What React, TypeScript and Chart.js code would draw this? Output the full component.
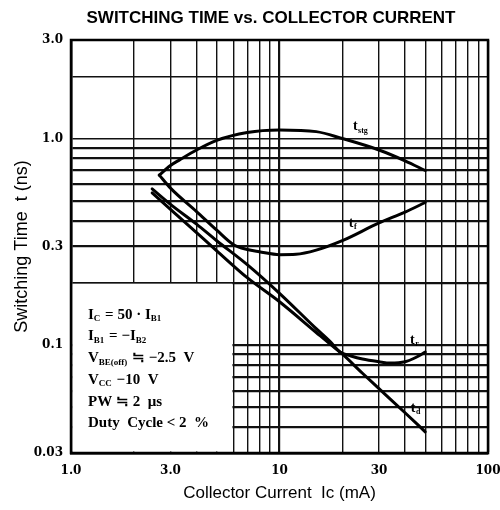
import React, { useEffect, useRef } from "react";
import { Chart, registerables } from "chart.js";

Chart.register(...registerables);

// ---- data ----
const tstgX = [2.65, 3, 3.33, 4, 5, 7, 10, 15, 20, 30, 40, 50];
const tstgY = [0.665, 0.74, 0.79, 0.88, 0.98, 1.07, 1.1, 1.08, 1.0, 0.88, 0.78, 0.7];

const tfX = [2.65, 3, 4, 5, 6, 7, 8, 10, 12, 15, 20, 30, 40, 50];
const tfY = [0.665, 0.575, 0.443, 0.36, 0.307, 0.29, 0.283, 0.274, 0.275, 0.288, 0.32, 0.39, 0.44, 0.49];

const trX = [2.45, 3, 4, 5, 7, 10, 15, 17.5, 19.5, 22, 25, 30, 34, 40, 45, 50];
const trY = [0.57, 0.48, 0.385, 0.32, 0.245, 0.178, 0.12, 0.104, 0.0925, 0.0885, 0.0855, 0.083, 0.0818, 0.083, 0.087, 0.0925];

const tdX = [2.45, 3, 4, 5, 7, 10, 15, 17.5, 19.5, 20, 25, 30, 40, 50];
const tdY = [0.545, 0.454, 0.35, 0.286, 0.212, 0.162, 0.115, 0.101, 0.0925, 0.0905, 0.073, 0.0615, 0.047, 0.038];

const xGridValues = [1, 2, 3, 4, 5, 6, 7, 8, 9, 10, 20, 30, 40, 50, 60, 70, 80, 90, 100];
const yGridValues = [0.03, 0.04, 0.05, 0.06, 0.07, 0.08, 0.09, 0.1, 0.2, 0.3, 0.4, 0.5, 0.6, 0.7, 0.8, 0.9, 1, 2, 3];
const xTickValues = [1, 3, 10, 30, 100];
const xTickLabels = ["1.0", "3.0", "10", "30", "100"];
const yTickValues = [0.03, 0.1, 0.3, 1, 3];
const yTickLabels = ["0.03", "0.1", "0.3", "1.0", "3.0"];

const titleText = "SWITCHING TIME vs. COLLECTOR CURRENT";
const xTitle = "Collector Current  Ic (mA)";
const yTitle = "Switching Time  t (ns)";

// curve labels: [main, subscript, x value, y value]
const curveLabels: [string, string, number, number][] = [
  ["t", "stg", 22.5, 1.14],
  ["t", "f", 21.5, 0.39],
  ["t", "r", 42.3, 0.1057],
  ["t", "d", 42.6, 0.0496],
];

// condition text: segments [text, isSubscript]
const conditionLines: [string, boolean][][] = [
  [["I", false], ["C", true], [" = 50 · I", false], ["B1", true]],
  [["I", false], ["B1", true], [" = −I", false], ["B2", true]],
  [["V", false], ["BE(off)", true], [" ≒ −2.5  V", false]],
  [["V", false], ["CC", true], [" −10  V", false]],
  [["PW ≒ 2  ", false], ["μs", false]],
  [["Duty  Cycle < 2  %", false]],
];

const pts = (xs: number[], ys: number[]) => xs.map((x, i) => ({ x, y: ys[i] }));

const near = (a: number, b: number) => Math.abs(a - b) / b < 1e-6;
const isDecade = (v: number) => near(Math.log10(v), Math.round(Math.log10(v)));

const SERIF = '"Liberation Serif", "Times New Roman", serif';
const SANS = '"Liberation Sans", Arial, sans-serif';

const overlayPlugin = {
  id: "overlay",
  beforeDatasetsDraw(chart: any) {
    const { ctx, chartArea } = chart;
    const xs = chart.scales.x;
    const ys = chart.scales.y;
    // white condition box covering the grid in the lower-left corner
    const bx0 = xs.getPixelForValue(1) + 1.5;
    const bx1 = xs.getPixelForValue(6) - 0.8;
    const by0 = ys.getPixelForValue(0.2) + 0.8;
    const by1 = ys.getPixelForValue(0.03) - 1.5;
    ctx.save();
    ctx.fillStyle = "#fff";
    ctx.fillRect(bx0, by0, bx1 - bx0, by1 - by0);
    // frame
    ctx.strokeStyle = "#000";
    ctx.lineWidth = 2.5;
    ctx.strokeRect(chartArea.left, chartArea.top, chartArea.right - chartArea.left, chartArea.bottom - chartArea.top);
    // condition text
    ctx.fillStyle = "#000";
    ctx.textBaseline = "middle";
    ctx.textAlign = "left";
    const startY = ys.getPixelForValue(0.2) + 32;
    conditionLines.forEach((line, i) => {
      let x = chartArea.left + 17;
      const y = startY + i * 21.7;
      line.forEach(([t, sub]) => {
        ctx.font = sub ? `bold 9px ${SERIF}` : `bold 15px ${SERIF}`;
        ctx.fillText(t, x, sub ? y + 4 : y);
        x += ctx.measureText(t).width + (sub ? 1 : 0);
      });
    });
    ctx.restore();
  },
  afterDatasetsDraw(chart: any) {
    const { ctx } = chart;
    const xs = chart.scales.x;
    const ys = chart.scales.y;
    ctx.save();
    ctx.fillStyle = "#000";
    ctx.textBaseline = "middle";
    ctx.textAlign = "left";
    curveLabels.forEach(([m, s, xv, yv]) => {
      const x = xs.getPixelForValue(xv);
      const y = ys.getPixelForValue(yv);
      ctx.font = `bold 14px ${SERIF}`;
      ctx.fillText(m, x, y);
      const w = ctx.measureText(m).width;
      ctx.font = `bold 8px ${SERIF}`;
      ctx.fillText(s, x + w + 0.5, y + 4);
    });
    // main title
    ctx.font = `bold 17px ${SANS}`;
    ctx.textAlign = "center";
    ctx.fillText(titleText, 271, 18);
    ctx.restore();
  },
};

export default function App() {
  const ref = useRef<HTMLCanvasElement | null>(null);
  useEffect(() => {
    if (!ref.current) return;
    const line = (label: string, xs: number[], ys: number[]) => ({
      label,
      data: pts(xs, ys),
      borderColor: "#000",
      backgroundColor: "#000",
      borderWidth: 3,
      borderJoinStyle: "round" as const,
      borderCapStyle: "round" as const,
      pointRadius: 0,
      fill: false,
      cubicInterpolationMode: "monotone" as const,
    });
    const chart = new Chart(ref.current, {
      type: "line",
      data: {
        datasets: [
          line("tstg", tstgX, tstgY),
          line("tf", tfX, tfY),
          line("tr", trX, trY),
          line("td", tdX, tdY),
        ],
      },
      options: {
        responsive: false,
        animation: false,
        layout: { padding: { top: 40, left: 8, right: 0, bottom: 0 } },
        plugins: {
          legend: { display: false },
          tooltip: { enabled: false },
          title: { display: false },
        },
        scales: {
          x: {
            type: "logarithmic",
            min: 1,
            max: 100,
            afterBuildTicks: (scale: any) => {
              scale.ticks = xGridValues.map((v) => ({ value: v }));
            },
            afterFit: (scale: any) => {
              scale.height = 57;
              scale.paddingLeft = 0;
              scale.paddingRight = 12;
            },
            ticks: {
              autoSkip: false,
              maxRotation: 0,
              padding: 11,
              color: "#000",
              font: { family: '"DejaVu Serif"', size: 12, weight: "bold" },
              callback: (v: any) => {
                const i = xTickValues.findIndex((t) => near(Number(v), t));
                return i >= 0 ? xTickLabels[i] : "";
              },
            },
            grid: {
              drawTicks: false,
              color: "#111",
              lineWidth: (c: any) => (c.tick && isDecade(c.tick.value) ? 2.2 : 1.4),
            },
            border: { display: true, color: "#000", width: 2.5 },
            title: {
              display: true,
              text: xTitle,
              color: "#000",
              font: { family: SANS, size: 17 },
              padding: { top: 0, bottom: 6 },
            },
          },
          y: {
            type: "logarithmic",
            min: 0.03,
            max: 3,
            afterBuildTicks: (scale: any) => {
              scale.ticks = yGridValues.map((v) => ({ value: v }));
            },
            afterFit: (scale: any) => {
              scale.width = 63;
            },
            ticks: {
              autoSkip: false,
              padding: 8,
              color: "#000",
              font: { family: '"DejaVu Serif"', size: 12, weight: "bold" },
              callback: (v: any) => {
                const i = yTickValues.findIndex((t) => near(Number(v), t));
                return i >= 0 ? yTickLabels[i] : "";
              },
            },
            grid: {
              drawTicks: false,
              color: "#111",
              lineWidth: (c: any) => (c.tick && isDecade(c.tick.value) ? 2.2 : 1.4),
            },
            border: { display: true, color: "#000", width: 2.5 },
            title: {
              display: true,
              text: yTitle,
              color: "#000",
              font: { family: SANS, size: 18 },
              padding: { top: 3, bottom: 0 },
            },
          },
        },
      },
      plugins: [overlayPlugin],
    });
    return () => chart.destroy();
  }, []);
  return (
    <div style={{ position: "absolute", left: 0, top: 0, width: 500, height: 510, background: "#fff" }}>
      <canvas ref={ref} width={500} height={510} style={{ width: 500, height: 510 }} />
    </div>
  );
}
